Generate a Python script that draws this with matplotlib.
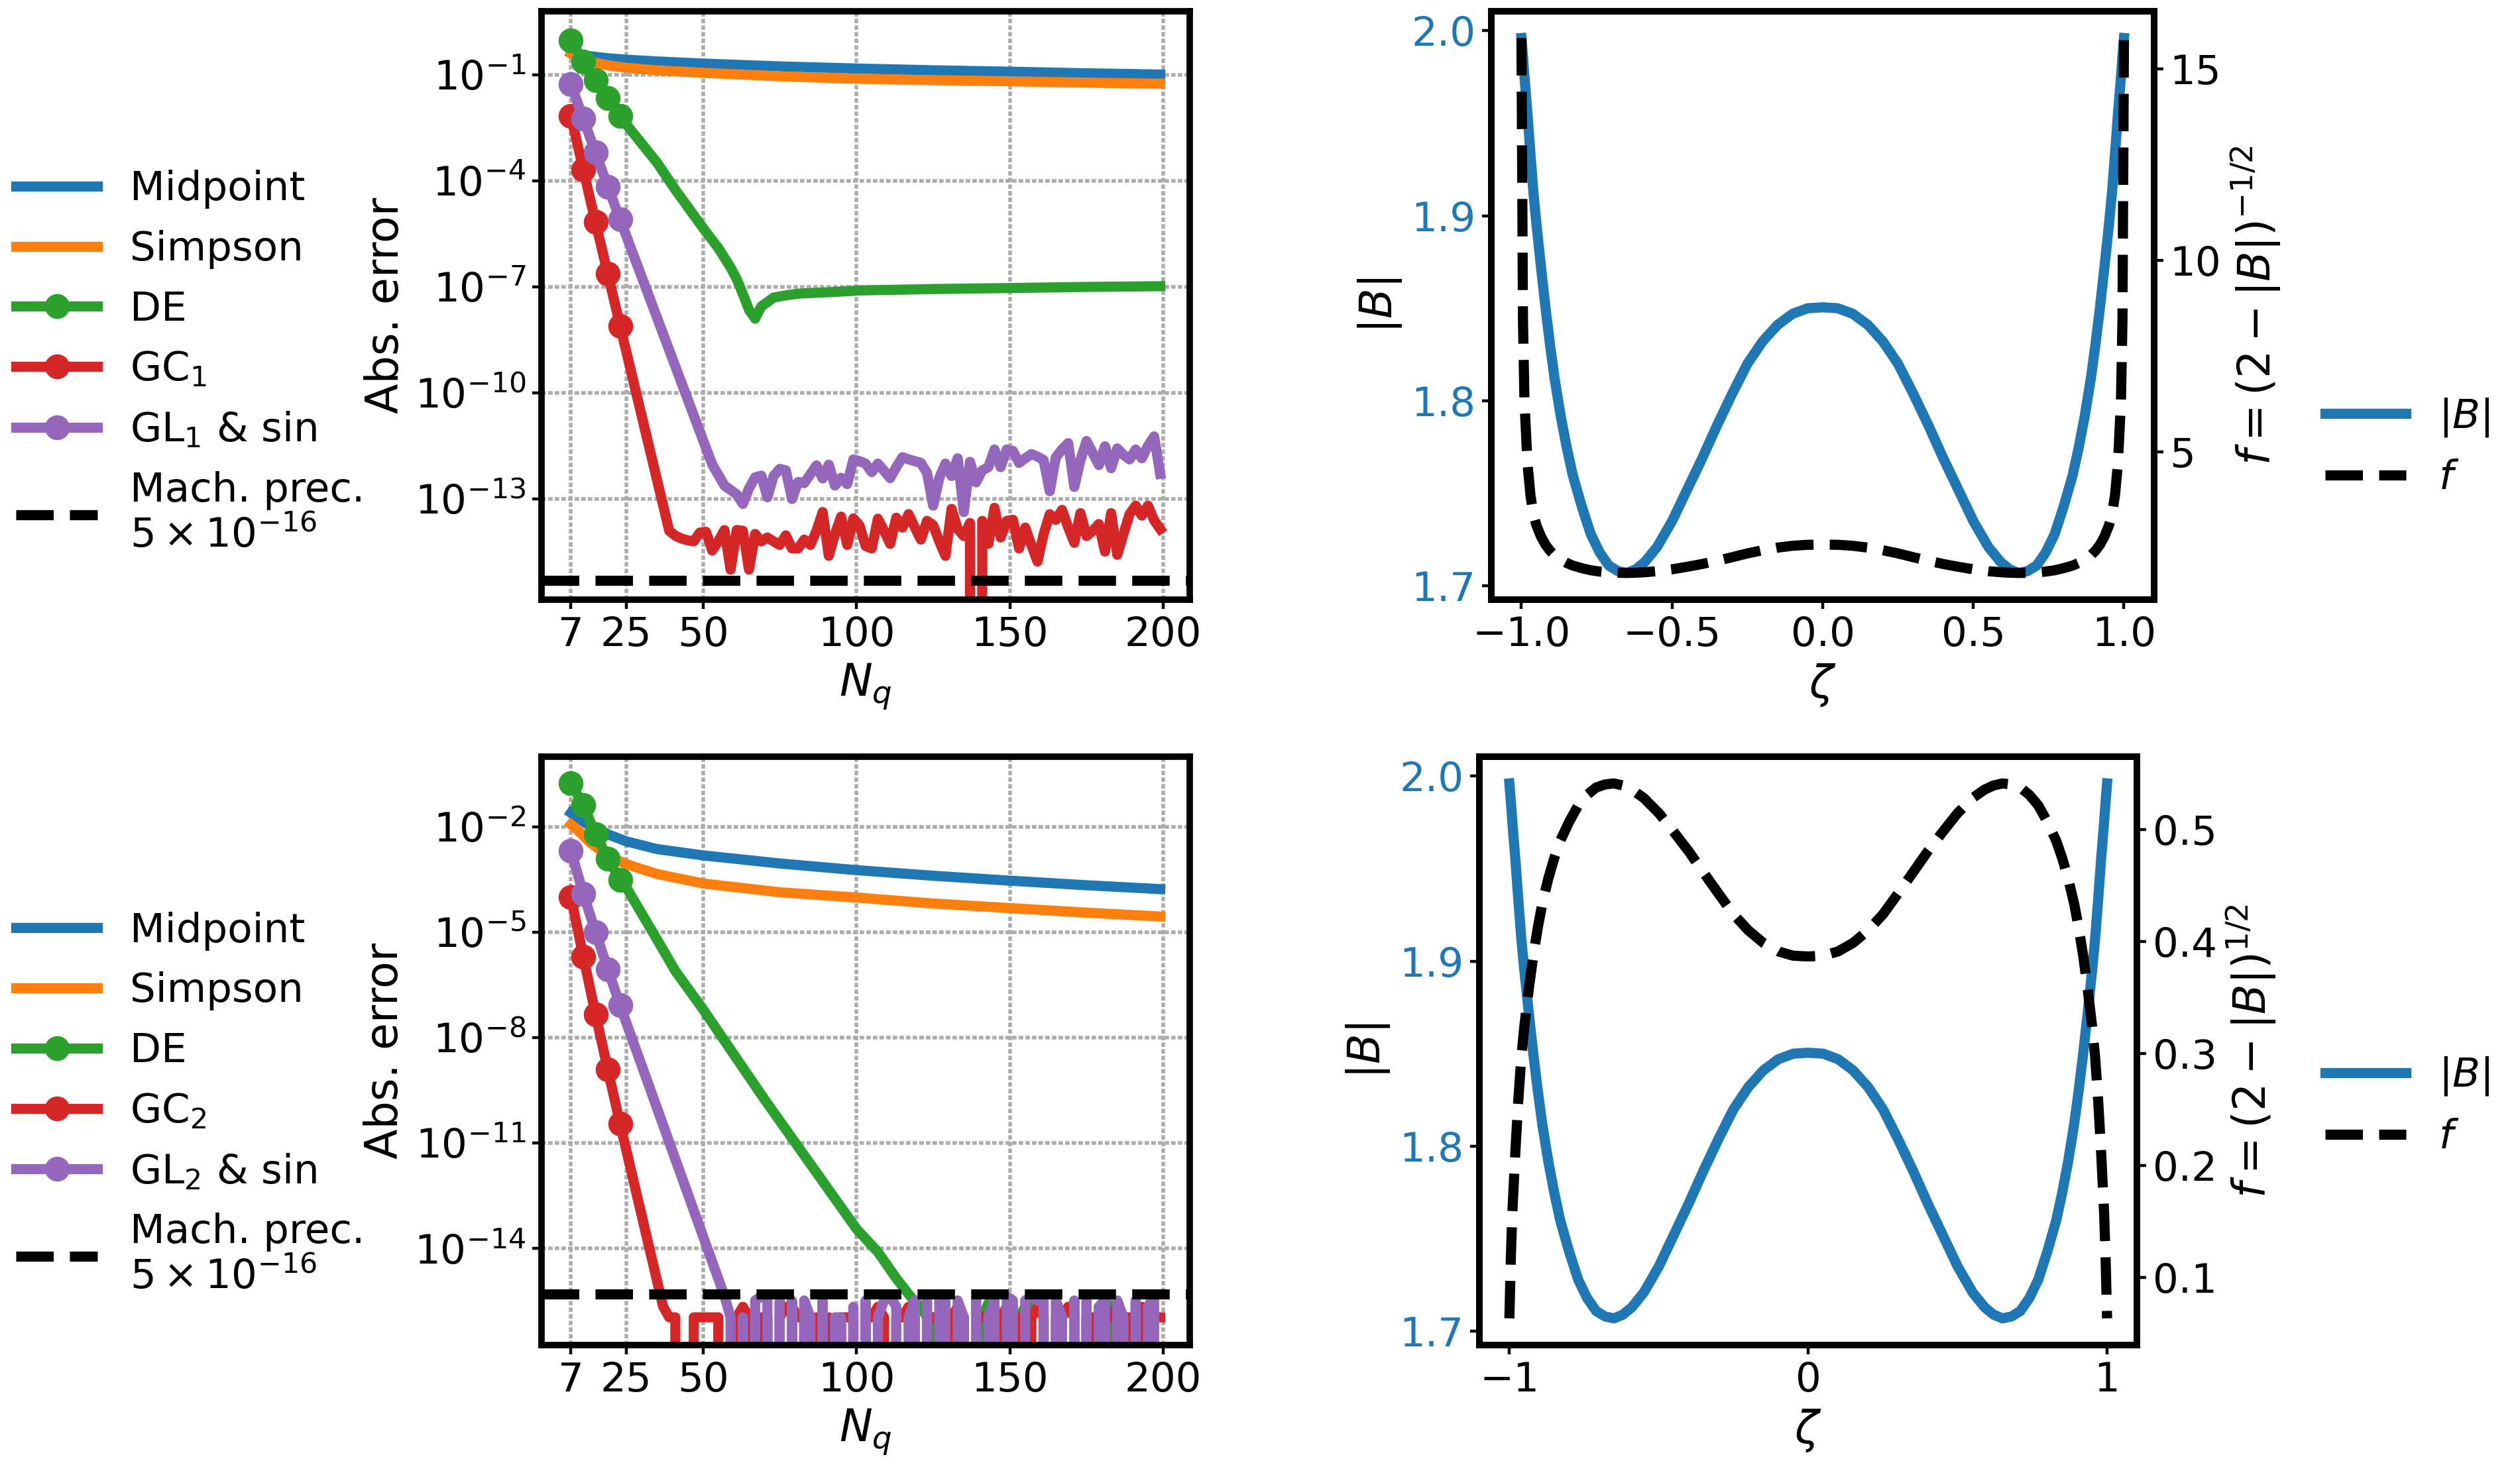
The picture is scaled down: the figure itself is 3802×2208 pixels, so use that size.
import numpy as np
import matplotlib
matplotlib.use("Agg")
import matplotlib.pyplot as plt
from matplotlib.ticker import FixedLocator, NullLocator

plt.rcParams["font.family"] = ["DejaVu Sans"]
plt.rcParams["font.size"] = 22
plt.rcParams["axes.labelsize"] = 24
plt.rcParams["axes.linewidth"] = 3.5
plt.rcParams["xtick.major.size"] = 5
plt.rcParams["ytick.major.size"] = 5
plt.rcParams["xtick.major.width"] = 1.6
plt.rcParams["ytick.major.width"] = 1.6

LW = 5.5
NEG = -np.inf   # error exactly zero

# ------------------------------------------------------------------
# data: log10 of the absolute error
# ------------------------------------------------------------------
n_smooth = [7, 9, 11, 13, 15, 19, 25, 35, 50, 75, 100, 125, 150, 175, 199]
n_odd41 = list(range(41, 200, 2))
n_odd61 = list(range(61, 200, 2))
n_odd63 = list(range(63, 200, 2))
n_odd121 = list(range(121, 200, 2))

# case 1 (top row)
mid1_lg = [-0.36, -0.41, -0.44, -0.47, -0.49, -0.53, -0.57, -0.62, -0.68, -0.76,
           -0.82, -0.87, -0.91, -0.955, -0.99]
simp1_lg = [-0.40, -0.50, -0.57, -0.62, -0.66, -0.73, -0.80, -0.87, -0.94, -1.04,
            -1.11, -1.15, -1.18, -1.22, -1.25]

de1_n = [7, 11, 15, 19, 23, 25, 35, 41, 50, 55, 59, 61, 63, 65, 67, 69, 71, 73, 77,
         81, 91, 101, 125, 151, 175, 199]
de1_lg = [-0.03, -0.62, -1.15, -1.66, -2.17, -2.40, -3.48, -4.25, -5.33, -5.90,
          -6.45, -6.78, -7.20, -7.65, -7.90, -7.55, -7.43, -7.30, -7.24, -7.19,
          -7.15, -7.10, -7.06, -7.03, -7.00, -6.98]

gc1_n = [7, 11, 15, 19, 23, 39] + n_odd41
gc1_lg = [-2.17, -3.68, -5.17, -6.63, -8.10, -13.90,
          -14.04, -14.12, -14.17, -14.20, -13.95, -13.93, -14.46, -14.20, -13.88, -15.00,
          -13.88, -13.90, -15.00, -13.99, -14.20, -14.09, -14.20, -14.30, -14.03, -14.40,
          -14.40, -14.15, -14.30, -13.90, -13.37, -14.61, -14.00, -13.50, -14.30, -13.55,
          -13.75, -14.33, -14.40, -13.56, -13.90, -14.27, -13.53, -13.81, -13.43, -13.80,
          -14.15, -13.62, -13.74, -14.20, -14.61, -13.28, -13.85, -14.05, -13.68, NEG,
          -13.62, -14.27, -13.25, -14.09, -13.62, -13.59, -14.40, -13.81, -14.30, -14.77,
          -14.00, -13.43, -13.59, -13.31, -13.80, -14.24, -13.40, -14.05, -13.90, -13.71,
          -14.49, -13.40, -14.58, -14.00, -13.43, -13.19, -13.47, -13.19, -13.60, -13.85]

gl1_n = [7, 11, 15, 19, 23, 50, 53, 57, 61] + n_odd63
gl1_lg = [-1.27, -2.24, -3.20, -4.16, -5.09, -11.33, -12.02, -12.62, -12.87,
          -13.14, -12.70, -12.39, -12.34, -12.95, -12.35, -12.15, -12.19, -13.00, -12.52,
          -12.55, -12.30, -12.05, -12.42, -12.03, -12.62, -12.40, -12.58, -11.88, -11.93,
          -12.00, -12.24, -12.00, -12.20, -12.41, -12.10, -11.82, -11.88, -11.93, -11.98,
          -12.26, -13.19, -12.41, -12.00, -12.35, -11.85, -13.37, -11.95, -12.53, -12.19,
          -12.10, -11.60, -12.10, -11.60, -11.64, -11.98, -11.85, -11.73, -11.80, -11.90,
          -12.78, -11.82, -11.60, -11.42, -12.66, -11.90, -11.36, -11.70, -12.04, -11.51,
          -12.13, -11.57, -11.75, -11.88, -11.60, -11.85, -11.50, -11.23, -12.29]

# case 2 (bottom row)
mid2_lg = [-1.60, -1.72, -1.85, -1.93, -2.03, -2.21, -2.41, -2.63, -2.81, -3.04,
           -3.23, -3.39, -3.53, -3.66, -3.77]
simp2_lg = [-1.93, -2.08, -2.25, -2.43, -2.56, -2.82, -3.06, -3.34, -3.61, -3.86,
            -4.01, -4.18, -4.31, -4.44, -4.55]

de2_n = [7, 11, 15, 19, 23, 25, 35, 41, 50, 70, 100, 107, 113, 117, 119] + n_odd121
de2_lg = [-0.76, -1.38, -2.20, -2.90, -3.50, -3.72, -5.20, -6.10, -7.19, -9.75,
          -13.44, -14.10, -14.85, -15.30, -15.50,
          -15.66, -15.96, -15.96, NEG, -15.66, NEG, NEG, -15.96, NEG, NEG,
          -15.96, -15.56, -15.66, NEG, NEG, NEG, -15.96, -15.66, -15.56, -15.56,
          -15.96, NEG, NEG, NEG, NEG, NEG, NEG, -15.96, NEG, -15.66,
          -15.48, -15.66, NEG, NEG, NEG, NEG, -15.96, -15.66, NEG, NEG]

gc2_n = [7, 11, 15, 19, 23, 37, 39] + n_odd41
gc2_lg = [-4.00, -5.69, -7.33, -8.91, -10.45, -15.65, -15.96,
          -15.96, NEG, NEG, -15.96, -15.96, -15.96, -15.96, -15.96, NEG, NEG,
          -15.96, -15.66, -15.96, NEG, -15.96, -15.96, NEG, -15.96, -15.66, -15.66,
          -15.96, -15.96, NEG, -15.96, -15.96, -15.96, NEG, -15.96, -15.96, -15.96,
          NEG, -15.96, -15.96, -15.66, -15.96, NEG, -15.96, -15.96, -15.66, -15.96,
          NEG, -15.96, -15.96, -15.96, NEG, -15.96, -15.66, -15.96, NEG, -15.96,
          -15.96, -15.96, NEG, -15.96, -15.66, -15.96, -15.96, NEG, -15.96, -15.66,
          -15.96, NEG, -15.96, -15.96, -15.66, -15.96, NEG, -15.96, -15.96, NEG,
          -15.96, -15.96, -15.66, -15.96, -15.96, NEG, -15.66, -15.96, -15.96, -15.96]

gl2_n = [7, 11, 15, 19, 23, 57, 59] + n_odd61
gl2_lg = [-2.68, -3.90, -4.99, -6.05, -7.08, -15.35, -15.96,
          NEG, -15.96, NEG, -15.48, -15.36, -15.48, NEG, -15.48, NEG, -15.48,
          NEG, -15.48, -15.96, NEG, -15.48, NEG, -15.96, -15.96, NEG, -15.66,
          NEG, -15.48, NEG, -15.96, -15.48, -15.36, -15.66, NEG, -15.96, -15.48,
          NEG, -15.48, NEG, -15.36, -15.48, NEG, -15.48, -15.96, NEG, -15.48,
          NEG, -15.96, -15.48, NEG, -15.36, -15.48, NEG, -15.48, -15.36, -15.48,
          -15.48, NEG, -15.48, -15.96, NEG, -15.48, NEG, -15.48, NEG, -15.66,
          -15.48, NEG, -15.48, -15.96, NEG, -15.48, NEG, -15.66, -15.36, NEG]

mach_prec = 5e-16
n_ticks = [7, 25, 50, 100, 150, 200]

# field strength along the field line
zeta = [-1.0, -0.995, -0.99, -0.98, -0.97, -0.96, -0.95, -0.935, -0.92, -0.905,
        -0.89, -0.87, -0.85, -0.83, -0.80, -0.77, -0.74, -0.71, -0.68, -0.65,
        -0.62, -0.59, -0.55, -0.50, -0.45, -0.40, -0.35, -0.30, -0.25, -0.20,
        -0.15, -0.10, -0.05, 0.0,
        0.05, 0.10, 0.15, 0.20, 0.25, 0.30, 0.35, 0.40, 0.45, 0.50,
        0.55, 0.59, 0.62, 0.65, 0.68, 0.71, 0.74, 0.77, 0.80, 0.83,
        0.85, 0.87, 0.89, 0.905, 0.92, 0.935, 0.95, 0.96, 0.97, 0.98,
        0.99, 0.995, 1.0]
B = [1.996, 1.986, 1.975, 1.955, 1.933, 1.912, 1.895, 1.872, 1.850, 1.830,
     1.812, 1.792, 1.775, 1.760, 1.743, 1.728, 1.718, 1.711, 1.708, 1.707,
     1.709, 1.713, 1.721, 1.735, 1.752, 1.769, 1.787, 1.804, 1.820, 1.832,
     1.841, 1.847, 1.850, 1.8505,
     1.850, 1.847, 1.841, 1.832, 1.820, 1.804, 1.787, 1.769, 1.752, 1.735,
     1.721, 1.713, 1.709, 1.707, 1.708, 1.711, 1.718, 1.728, 1.743, 1.760,
     1.775, 1.792, 1.812, 1.830, 1.850, 1.872, 1.895, 1.912, 1.933, 1.955,
     1.975, 1.986, 1.996]


fig = plt.figure(figsize=(19.01, 11.04))


def err_line(ax, n, lg, color, label, marks=False):
    y = 10.0 ** np.asarray(lg, dtype=float)
    if marks:
        ax.plot(n, y, color=color, lw=LW, label=label, marker="o", ms=12.5,
                markevery=slice(0, 5))
    else:
        ax.plot(n, y, color=color, lw=LW, label=label)


def error_panel(ax, data, sub, yticks, ylim, leg_y):
    mid, simp, de_n, de, gc_n, gc, gl_n, gl = data
    err_line(ax, n_smooth, mid, "tab:blue", "Midpoint")
    err_line(ax, n_smooth, simp, "tab:orange", "Simpson")
    err_line(ax, de_n, de, "tab:green", "DE", True)
    err_line(ax, gc_n, gc, "tab:red", "GC$_%d$" % sub, True)
    err_line(ax, gl_n, gl, "tab:purple", "GL$_%d$ & sin" % sub, True)
    ax.axhline(mach_prec, color="k", ls="--", lw=LW,
               label="Mach. prec.\n$5\\times10^{-16}$")
    ax.set_yscale("log")
    ax.set_ylim(*ylim)
    ax.yaxis.set_major_locator(FixedLocator(yticks))
    ax.yaxis.set_minor_locator(NullLocator())
    ax.set_xticks(n_ticks)
    ax.grid(True, color="0.68", ls=(0, (1.2, 0.6)), lw=2.0)
    ax.set_xlabel("$N_q$")
    ax.set_ylabel("Abs. error")
    ax.legend(loc="center left", bbox_to_anchor=(0.0, leg_y),
              bbox_transform=fig.transFigure, frameon=False, borderaxespad=0,
              labelspacing=0.52)


def field_panel(ax, power, flabel, fticks, leg_y, xticks=None):
    f = (2.0 - np.asarray(B)) ** power
    lb, = ax.plot(zeta, B, color="tab:blue", lw=LW)
    ax.set_xlabel(r"$\zeta$")
    ax.set_ylabel("$|B|$")
    ax.set_yticks([1.7, 1.8, 1.9, 2.0])
    ax.tick_params(axis="y", labelcolor="tab:blue")
    if xticks is not None:
        ax.set_xticks(xticks)
    ax2 = ax.twinx()
    lf, = ax2.plot(zeta, f, color="k", ls="--", lw=LW)
    ax2.set_yticks(fticks)
    ax2.set_ylabel(flabel)
    fig.legend([lb, lf], ["$|B|$", "$f$"], loc="center left",
               bbox_to_anchor=(0.9163, leg_y), frameon=False, borderaxespad=0)


ax_tl = fig.add_axes([0.2149, 0.5901, 0.2572, 0.4022])
ax_bl = fig.add_axes([0.2149, 0.0806, 0.2572, 0.4022])
ax_tr = fig.add_axes([0.5918, 0.5901, 0.2630, 0.4022])
ax_br = fig.add_axes([0.5871, 0.0806, 0.2609, 0.4022])

error_panel(ax_tl, (mid1_lg, simp1_lg, de1_n, de1_lg, gc1_n, gc1_lg, gl1_n, gl1_lg),
            1, [1e-1, 1e-4, 1e-7, 1e-10, 1e-13], (10 ** -15.85, 10 ** 0.8), 0.752)
error_panel(ax_bl, (mid2_lg, simp2_lg, de2_n, de2_lg, gc2_n, gc2_lg, gl2_n, gl2_lg),
            2, [1e-2, 1e-5, 1e-8, 1e-11, 1e-14], (10 ** -16.75, 10 ** 0.0), 0.245)

field_panel(ax_tr, -0.5, "$f = (2-|B|)^{-1/2}$", [5, 10, 15], 0.6945)
field_panel(ax_br, 0.5, "$f = (2-|B|)^{1/2}$", [0.1, 0.2, 0.3, 0.4, 0.5], 0.244,
            xticks=[-1, 0, 1])

fig.savefig("out.png", dpi=200)
